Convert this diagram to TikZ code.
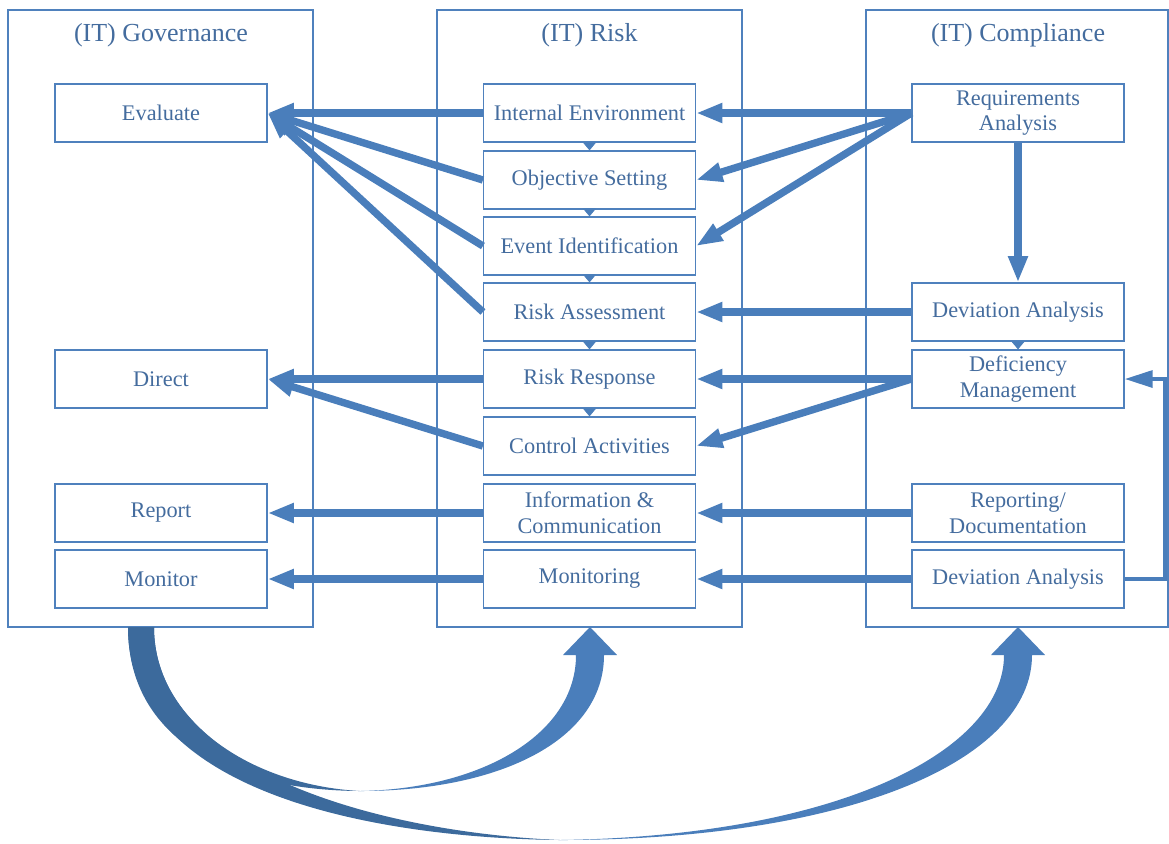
\documentclass[tikz,border=0pt]{standalone}
\usepackage{fontspec}
\setmainfont{Liberation Serif}
\usetikzlibrary{arrows.meta}
\definecolor{boxblue}{RGB}{79,129,189}
\definecolor{txtblue}{RGB}{68,108,158}
\definecolor{arrblue}{RGB}{74,126,187}
\definecolor{bandblue}{RGB}{60,106,156}
\tikzset{
  lane/.style={draw=boxblue, line width=.7pt},
  lanetitle/.style={text=txtblue, font=\fontsize{14.8}{17}\selectfont},
  box/.style={draw=boxblue, line width=.7pt, fill=white, minimum width=4.24cm,
    minimum height=1.16cm, inner sep=0pt, align=center, text=txtblue,
    font=\fontsize{12.7}{14.7}\selectfont},
  bigarr/.style={draw=arrblue, line width=4.2pt, -{Triangle[length=15pt,width=10.5pt]}},
  fbarr/.style={draw=arrblue, line width=2.4pt, -{Triangle[length=16pt,width=9.5pt]}},
  smallarr/.style={draw=boxblue, line width=.6pt, -{Triangle[length=4.5pt,width=7.4pt]}, arrblue}
}
\begin{document}
\begin{tikzpicture}[x=0.02cm,y=-0.02cm]
\useasboundingbox (0,0) rectangle (1169,843);
\draw[lane] (8,10) rectangle (313,627);
\draw[lane] (437,10) rectangle (742,627);
\draw[lane] (866,10) rectangle (1168,627);
\node[lanetitle] (govtitle) at (161,35) {(IT) Governance};
\node[lanetitle] (risktitle) at (589.5,35) {(IT) Risk};
\node[lanetitle] (comptitle) at (1018,35) {(IT) Compliance};
%%%%
\foreach \nm/\y/\txt in {evaluate/113/Evaluate, direct/379/Direct, report/513/Report, monitor/579/Monitor}
\node[box] (\nm) at (161,\y) {\txt};
\foreach \nm/\y/\txt in {intenv/113/Internal Environment, objset/180/Objective Setting,
  eventid/246/Event Identification, riskass/312/Risk Assessment, riskresp/379/Risk Response,
  ctrlact/446/Control Activities, infocom/513/{Information \&\\Communication}, monitoring/579/Monitoring}
\node[box] (\nm) at (589.5,\y) {\txt};
\node[box] (reqana) at (1018,113) {Requirements\\Analysis};
\node[box] (devana) at (1018,312) {Deviation Analysis};
\node[box] (defman) at (1018,379) {Deficiency\\Management};
\node[box] (repdoc) at (1018,513) {Reporting/\\Documentation};
\node[box] (devmon) at (1018,579) {Deviation Analysis};
%%%%
\foreach \a/\b in {intenv/objset, objset/eventid, eventid/riskass, riskass/riskresp, riskresp/ctrlact, devana/defman}
\draw[smallarr] (\a.south) -- (\b.north);
\foreach \s in {intenv,objset,eventid,riskass}
\draw[bigarr] (\s.west) -- (evaluate.east);
\foreach \t in {intenv,objset,eventid}
\draw[bigarr] (reqana.west) -- (\t.east);
\draw[bigarr] (reqana.south) -- (devana.north);
\draw[bigarr] (devana.west) -- (riskass.east);
\foreach \s in {riskresp,ctrlact}
\draw[bigarr] (\s.west) -- (direct.east);
\foreach \t in {riskresp,ctrlact}
\draw[bigarr] (defman.west) -- (\t.east);
\draw[bigarr] (infocom.west) -- (report.east);
\draw[bigarr] (repdoc.west) -- (infocom.east);
\draw[bigarr] (monitoring.west) -- (monitor.east);
\draw[bigarr] (devmon.west) -- (monitoring.east);
\draw[fbarr] (devmon.east) -- ++(40,0) |- (defman.east);
%%%% curved arrows below the lanes
\fill[bandblue] (128,627) .. controls (128,795) and (380,838) .. (560,840)
  .. controls (390,833) and (154,775) .. (154,627) -- cycle;
\fill[arrblue] (560,840) .. controls (850,840) and (1032,760) .. (1032,655)
  -- (1045,655) -- (1018,627) -- (991,655) -- (1004,655)
  .. controls (1004,750) and (840,836) .. (560,840) -- cycle;
\fill[bandblue] (128,627) .. controls (128,740) and (230,790) .. (360,791)
  .. controls (250,785) and (154,720) .. (154,627) -- cycle;
\fill[arrblue] (360,791) .. controls (500,791) and (604,740) .. (604,655)
  -- (617,655) -- (590,627) -- (563,655) -- (576,655)
  .. controls (576,735) and (480,789) .. (360,791) -- cycle;
\end{tikzpicture}
\end{document}
